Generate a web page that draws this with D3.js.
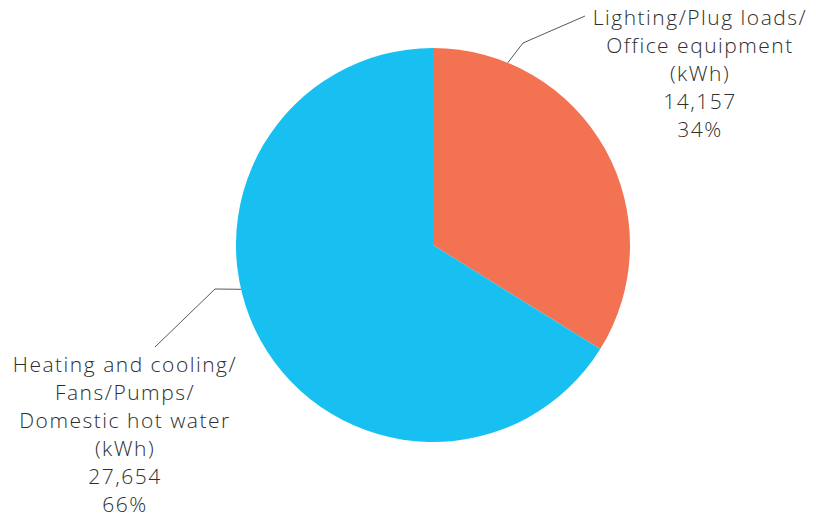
<!DOCTYPE html>
<html>
<head>
<meta charset="utf-8">
<script src="https://cdn.jsdelivr.net/npm/d3@7"></script>
<style>
  body { margin: 0; background: #fff; }
  text { font-family: "Open Sans", Lato, sans-serif; font-weight: 300; fill: #2e2e2e; letter-spacing: 1.5px; }
</style>
</head>
<body>
<div id="chart"></div>
<script>
// 数据
let categories = ['Lighting/Plug loads/Office equipment', 'Heating and cooling/Fans/Pumps/Domestic hot water']
let values = [14157, 27654]
let colors = ['#F27252', '#18C0F2']
let labelLines = [
  ['Lighting/Plug loads/', 'Office equipment', '(kWh)'],
  ['Heating and cooling/', 'Fans/Pumps/', 'Domestic hot water', '(kWh)']
]

let width = 816
let height = 519
let cx = 433
let cy = 245
let radius = 197

let svg = d3.select('#chart').append('svg').attr('width', width).attr('height', height)
let g = svg.append('g').attr('transform', 'translate(' + cx + ',' + cy + ')')

let total = d3.sum(values)
let pie = d3.pie().sort(null).value(d => d)
let arc = d3.arc().innerRadius(0).outerRadius(radius)
let arcs = pie(values)

g.selectAll('path').data(arcs).enter().append('path')
  .attr('d', arc)
  .attr('fill', (d, i) => colors[i])

// 标签位置 (相对于圆心)
let leader = [
  { angle: 22.3, bend: [90, -202], end: [152, -229], text: [267, -227] },
  { angle: 257, bend: [-218, 44], end: [-278, 102], text: [-308, 120] }
]

let fmt = d3.format(',')
let pct = d3.format('.0%')

arcs.forEach((d, i) => {
  let a = leader[i].angle * Math.PI / 180
  let p0 = [Math.sin(a) * radius, -Math.cos(a) * radius]
  g.append('polyline')
    .attr('points', [p0, leader[i].bend, leader[i].end].map(p => p.join(',')).join(' '))
    .attr('fill', 'none')
    .attr('stroke', '#595959')
    .attr('stroke-width', 1)
  let lines = labelLines[i].concat([fmt(values[i]), pct(values[i] / total)])
  let t = g.append('text')
    .attr('text-anchor', 'middle')
    .attr('font-size', 21)
  lines.forEach((s, j) => {
    t.append('tspan')
      .attr('x', leader[i].text[0])
      .attr('y', leader[i].text[1] + j * 28 + 7)
      .text(s)
  })
})
</script>
</body>
</html>
